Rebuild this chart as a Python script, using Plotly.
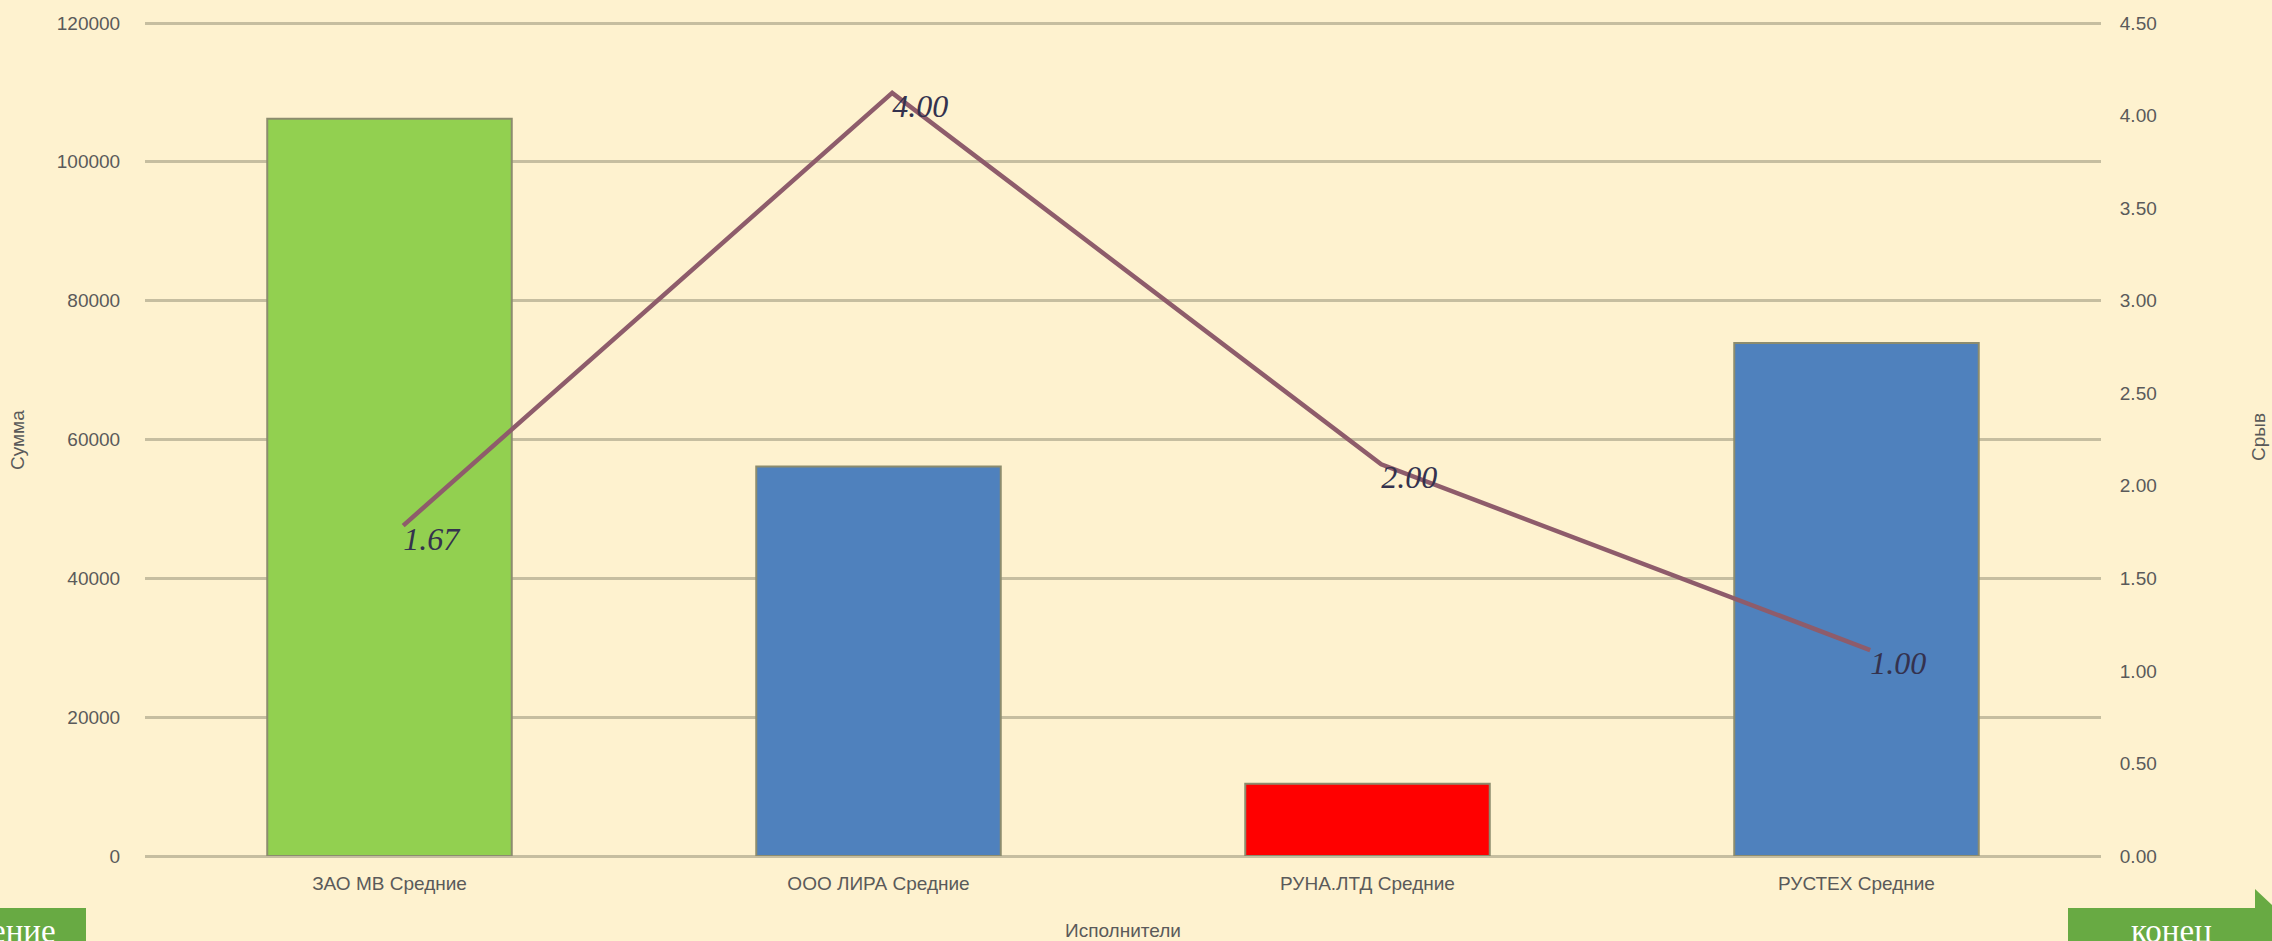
import plotly.graph_objects as go

# ---- data ----
categories = ["ЗАО МВ Средние", "ООО ЛИРА Средние", "РУНА.ЛТД Средние", "РУСТЕХ Средние"]
summa = [106200, 56100, 10400, 73900]
sryv = [1.67, 4.00, 2.00, 1.00]
bar_colors = ["#92D050", "#4F81BD", "#FF0000", "#4F81BD"]
left_ticks = [0, 20000, 40000, 60000, 80000, 100000, 120000]

# ---- geometry (pixels) ----
W, H = 2272, 941
L, R, T, B = 145, 171, 21, 85
PW, PH = W - L - R, H - T - B
K = PH / (PH - 2)   # top 2 px of padding above the 120000 / 4.50 gridline


def px(x):
    return (x - L) / PW


def py(y):
    return (H - B - y) / PH


BG = "#FEF2CF"
GRID = "#C6BEA0"
TXT = "#5A5A5A"
SANS = "Liberation Sans, Arial, sans-serif"
SERIF = "Liberation Serif, Times New Roman, serif"

fig = go.Figure()

fig.add_trace(go.Bar(
    x=categories, y=summa, xaxis="x", yaxis="y",
    marker=dict(color=bar_colors, line=dict(color="#8C8C6E", width=2)),
    width=0.5, showlegend=False, hoverinfo="x+y",
))

fig.add_trace(go.Scatter(
    x=categories, y=sryv, xaxis="x2", yaxis="y3",
    mode="lines+text",
    line=dict(color="#8E5C6B", width=4.5),
    texttemplate="%{y:.2f}", textposition="bottom right",
    textfont=dict(family=SERIF, size=32, color="#34324E", style="italic"),
    cliponaxis=False, showlegend=False,
))

fig.update_layout(
    width=W, height=H,
    margin=dict(l=L, r=R, t=T, b=B, pad=0),
    paper_bgcolor=BG, plot_bgcolor=BG,
    font=dict(family=SANS, size=20, color=TXT),
    xaxis=dict(
        type="category", categoryarray=categories, range=[-0.5, 3.5],
        showgrid=False, showline=False, zeroline=False,
        ticks="outside", ticklen=10, tickcolor="rgba(0,0,0,0)",
        tickfont=dict(family=SANS, size=19, color=TXT),
    ),
    xaxis2=dict(
        type="category", categoryarray=categories, overlaying="x",
        range=[-0.528, 3.472], visible=False,
    ),
    yaxis=dict(
        range=[0, 120000 * K], tickvals=left_ticks, tickformat="d",
        showgrid=True, gridcolor=GRID, gridwidth=2.8,
        zeroline=True, zerolinecolor=GRID, zerolinewidth=2.8,
        showline=False,
        ticks="outside", ticklen=20, tickcolor="rgba(0,0,0,0)",
        tickfont=dict(family=SANS, size=19, color=TXT),
    ),
    yaxis2=dict(
        overlaying="y", side="right", range=[0, 4.5 * K], dtick=0.5,
        tickformat=".2f", showgrid=False, zeroline=False, showline=False,
        ticks="outside", ticklen=14, tickcolor="rgba(0,0,0,0)",
        tickfont=dict(family=SANS, size=19, color=TXT),
    ),
    yaxis3=dict(
        overlaying="y", range=[-0.109, 4.387], visible=False,
    ),
)

# dummy trace to activate yaxis2 ticks
fig.add_trace(go.Scatter(x=[categories[0]], y=[0], xaxis="x", yaxis="y2",
                         mode="markers", marker=dict(opacity=0),
                         showlegend=False, hoverinfo="skip"))

# axis titles
fig.add_annotation(text="Сумма", x=px(18), y=py(440), xref="paper", yref="paper",
                   xanchor="center", yanchor="middle",
                   textangle=-90, showarrow=False, font=dict(family=SANS, size=19, color=TXT))
fig.add_annotation(text="Срыв", x=px(2259), y=py(437), xref="paper", yref="paper",
                   xanchor="center", yanchor="middle",
                   textangle=-90, showarrow=False, font=dict(family=SANS, size=19, color=TXT))
fig.add_annotation(text="Исполнители", x=px(1123), y=py(931), xref="paper", yref="paper",
                   xanchor="center", yanchor="middle",
                   showarrow=False, font=dict(family=SANS, size=19, color=TXT))

# navigation buttons
BTN = "#68AA43"
fig.add_shape(type="rect", xref="paper", yref="paper",
              x0=px(0), x1=px(86), y0=py(941), y1=py(908),
              fillcolor=BTN, line=dict(width=0), layer="above")
path = "M {} {} L {} {} L {} {} L {} {} L {} {} L {} {} Z".format(
    px(2068), py(908), px(2255), py(908), px(2255), py(889),
    px(2272), py(905), px(2272), py(941), px(2068), py(941))
fig.add_shape(type="path", path=path, xref="paper", yref="paper",
              fillcolor=BTN, line=dict(width=0), layer="above")
fig.add_annotation(text="ение", x=px(58), y=py(931), xref="paper", yref="paper",
                   xanchor="right", yanchor="middle", showarrow=False,
                   font=dict(family=SERIF, size=33, color="white"))
fig.add_annotation(text="конец", x=px(2171), y=py(931), xref="paper", yref="paper",
                   xanchor="center", yanchor="middle", showarrow=False,
                   font=dict(family=SERIF, size=33, color="white"))

fig.write_html("out.html", config={"displayModeBar": False},
               post_script="document.body.style.margin='0';document.body.style.overflow='hidden';")
